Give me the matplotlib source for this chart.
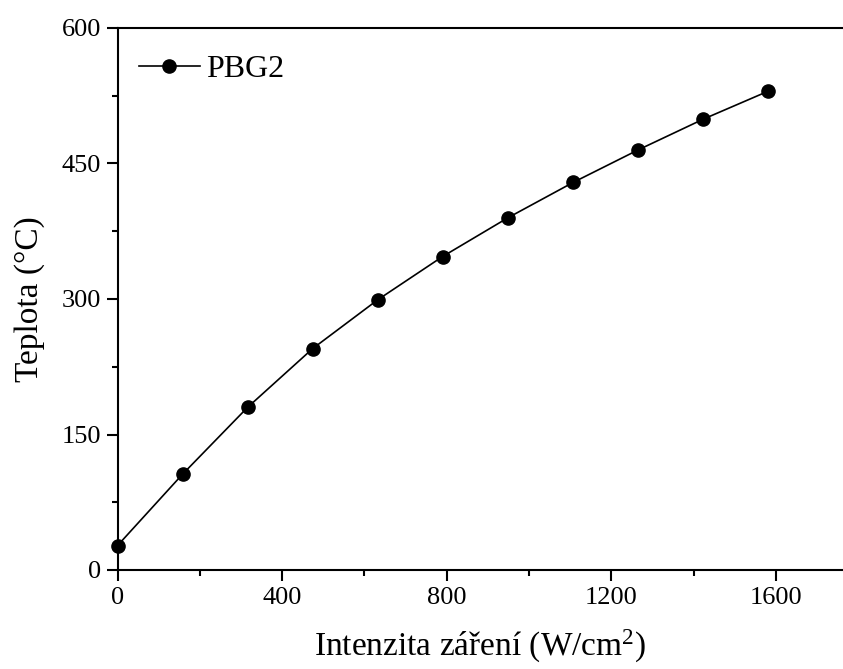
import matplotlib
matplotlib.use("Agg")
import matplotlib.pyplot as plt
from matplotlib.ticker import MultipleLocator

plt.rcParams["font.family"] = ["Liberation Serif", "DejaVu Serif"]
plt.rcParams["mathtext.fontset"] = "custom"
plt.rcParams["mathtext.rm"] = "Liberation Serif"
plt.rcParams["mathtext.it"] = "Liberation Serif:italic"

# irradiation intensity (W/cm^2) and measured temperature (degC)
intensity = [0, 158, 316, 474, 632, 790, 949, 1107, 1265, 1423, 1581]
temperature = [27, 106, 180, 245, 299, 347, 390, 429, 465, 499, 530]
series_name = "PBG2"

x_ticks = [0, 400, 800, 1200, 1600]
y_ticks = [0, 150, 300, 450, 600]

fig = plt.figure(figsize=(8.43, 6.69), dpi=100)
ax = fig.add_axes([117.5 / 843, 99 / 669, 1 - 117.5 / 843, 542 / 669])

ax.plot(intensity, temperature, color="black", linewidth=1.2,
        marker="o", markersize=9.5, label=series_name, clip_on=False, zorder=3)

ax.set_xlim(0, 1763)
ax.set_ylim(0, 600)
ax.set_xticks(x_ticks)
ax.set_yticks(y_ticks)
ax.xaxis.set_minor_locator(MultipleLocator(200))
ax.yaxis.set_minor_locator(MultipleLocator(75))

ax.spines["right"].set_visible(False)
for side in ("left", "bottom", "top"):
    ax.spines[side].set_linewidth(1.5)

ax.tick_params(which="major", direction="out", length=8, width=1.5,
               labelsize=19, top=False, right=False, pad=4)
ax.tick_params(which="minor", direction="out", length=4.5, width=1.5,
               top=False, right=False)

ax.set_xlabel("Intenzita záření (W/cm$^2$)", fontsize=24, labelpad=14)
ax.set_ylabel("Teplota (°C)", fontsize=24, labelpad=12)

ax.legend(loc="upper left", frameon=False, fontsize=23, handlelength=1.9,
          handletextpad=0.2, borderaxespad=0.0, bbox_to_anchor=(0.012, 0.975))

fig.savefig("out.png", dpi=100)
